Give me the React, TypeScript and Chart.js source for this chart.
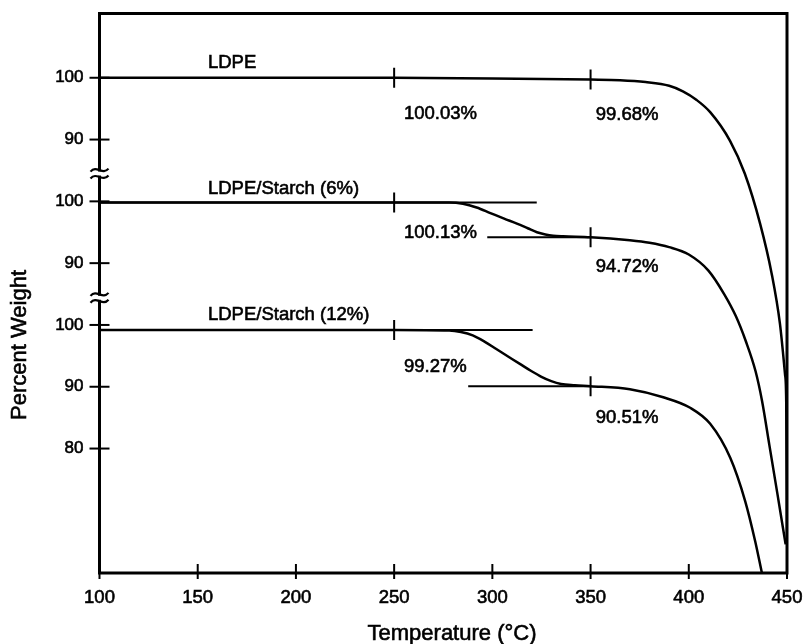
import React, { useEffect, useRef } from 'react';
import { Chart, registerables } from 'chart.js';

Chart.register(...registerables);

// ---------- data ----------
const tempMin = 100;
const tempMax = 450;
const tempStep = 50;

// LDPE thermogram (percent weight)
const ldpeTemp = [100, 200, 250, 300, 350, 365, 378, 390, 397, 404, 411, 421, 428.5, 436.3, 442.2, 446.4, 449.0, 449.6, 450];
const ldpeWeight = [100, 100, 100, 99.9, 99.7, 99.6, 99.3, 98.7, 97.8, 96.4, 94.4, 89.8, 84.5, 76.4, 68.3, 60.2, 52.0, 47.7, 24.5];

// LDPE/Starch (6%)
const starch6Temp = [100, 250, 278, 285, 292, 299, 306, 312.5, 318, 322.7, 327, 331, 336, 350, 370, 380, 390, 400, 410, 418, 424, 429, 434, 437.3, 441, 445, 449.3];
const starch6Weight = [99.8, 99.8, 99.8, 99.6, 99.0, 98.1, 97.2, 96.4, 95.65, 95.0, 94.65, 94.45, 94.35, 94.2, 93.7, 93.3, 92.6, 91.4, 88.8, 85.0, 81.4, 77.4, 72.5, 67.7, 60.6, 52.9, 44.5];

// LDPE/Starch (12%)
const starch12Temp = [100, 250, 278, 284, 290, 296, 302, 308, 314, 320, 325, 330, 335, 342, 350, 370, 387, 400.7, 410.9, 421.1, 428.7, 433.8, 437.2];
const starch12Weight = [99.2, 99.2, 99.1, 98.85, 98.3, 97.3, 96.1, 94.9, 93.7, 92.5, 91.6, 90.9, 90.45, 90.25, 90.1, 89.6, 88.3, 86.6, 84.0, 78.5, 71.5, 65.0, 59.9];

// tangent construction lines
const starch6UpperTemp = [100, 322.6];
const starch6UpperWeight = [99.8, 99.8];
const starch6LowerTemp = [297.4, 350];
const starch6LowerWeight = [94.2, 94.2];
const starch12UpperTemp = [100, 320.5];
const starch12UpperWeight = [99.2, 99.2];
const starch12LowerTemp = [287.7, 350];
const starch12LowerWeight = [90.1, 90.1];

// vertical marker ticks on the curves
const markerTemps = [250, 350];
const ldpeMarkers = [100, 99.7];
const starch6Markers = [99.8, 94.2];
const starch12Markers = [99.2, 90.1];

// vertical stacking offsets of the three thermograms
const ldpeOffset = 40;
const starch6Offset = 20;
const starch12Offset = 0;

// y axis (stacked scale)
const yMin = 59.86;
const yMax = 150.4;
const yTickValues = [80, 90, 100, 110, 120, 130, 140];
const yTickLabels = ['80', '90', '100', '90', '100', '90', '100'];
const axisBreaks = [124.5, 104.4];

// text annotations: temperature, percent weight, series offset
const annotations = [
  { text: 'LDPE', t: 155.2, pct: 102.6, offset: ldpeOffset },
  { text: '100.03%', t: 255.0, pct: 94.4, offset: ldpeOffset },
  { text: '99.68%', t: 352.6, pct: 94.3, offset: ldpeOffset },
  { text: 'LDPE/Starch (6%)', t: 155.2, pct: 102.2, offset: starch6Offset },
  { text: '100.13%', t: 255.0, pct: 95.15, offset: starch6Offset },
  { text: '94.72%', t: 352.6, pct: 89.6, offset: starch6Offset },
  { text: 'LDPE/Starch (12%)', t: 155.2, pct: 101.9, offset: starch12Offset },
  { text: '99.27%', t: 255.0, pct: 93.4, offset: starch12Offset },
  { text: '90.51%', t: 352.6, pct: 85.2, offset: starch12Offset },
];

const xTitle = 'Temperature (°C)';
const yTitle = 'Percent Weight';

// ---------- helpers ----------
const FONT = '"Liberation Sans", Arial, Helvetica, sans-serif';

const toPoints = (ts: number[], ws: number[], off: number) =>
  ts.map((t, i) => ({ x: t, y: ws[i] + off }));

const curve = (label: string, ts: number[], ws: number[], off: number) => ({
  label,
  data: toPoints(ts, ws, off),
  borderColor: '#000',
  borderWidth: 2.5,
  pointRadius: 0,
  fill: false,
  cubicInterpolationMode: 'monotone' as const,
});

const straight = (label: string, ts: number[], ws: number[], off: number) => ({
  label,
  data: toPoints(ts, ws, off),
  borderColor: '#000',
  borderWidth: 2,
  pointRadius: 0,
  fill: false,
  tension: 0,
});

const markers = (label: string, ws: number[], off: number) => ({
  label,
  data: toPoints(markerTemps, ws, off),
  showLine: false,
  borderColor: '#000',
  backgroundColor: '#000',
  borderWidth: 2,
  pointStyle: 'line' as const,
  rotation: 90,
  pointRadius: 10,
  pointHoverRadius: 10,
});

const drawText = (ctx: CanvasRenderingContext2D, text: string, x: number, y: number) => {
  ctx.fillText(text, x, y);
  ctx.strokeText(text, x, y);
};

const framePlugin = {
  id: 'tgaFrame',
  afterDatasetsDraw(chart: any) {
    const { ctx, chartArea: a, scales } = chart;
    const xs = scales.x;
    const ys = scales.y;
    ctx.save();
    ctx.strokeStyle = '#000';
    ctx.lineCap = 'butt';

    // frame
    ctx.lineWidth = 3;
    ctx.strokeRect(a.left, a.top, a.right - a.left, a.bottom - a.top);

    // crossing tick marks
    ctx.lineWidth = 2;
    ys.ticks.forEach((t: any) => {
      const y = ys.getPixelForValue(t.value);
      ctx.beginPath();
      ctx.moveTo(a.left - 10, y);
      ctx.lineTo(a.left + 10, y);
      ctx.stroke();
    });
    xs.ticks.forEach((t: any) => {
      const x = xs.getPixelForValue(t.value);
      ctx.beginPath();
      ctx.moveTo(x, a.bottom - 9);
      ctx.lineTo(x, a.bottom + 6);
      ctx.stroke();
    });

    // axis breaks
    axisBreaks.forEach((v) => {
      const y = ys.getPixelForValue(v);
      ctx.fillStyle = '#fff';
      ctx.fillRect(a.left - 3, y - 2, 6, 4);
      ctx.lineWidth = 2.2;
      [-3.4, 3.4].forEach((dy) => {
        const cy = y + dy;
        ctx.beginPath();
        ctx.moveTo(a.left - 9, cy + 1.5);
        ctx.bezierCurveTo(a.left - 3, cy - 5.5, a.left + 3, cy + 5.5, a.left + 9, cy - 1.5);
        ctx.stroke();
      });
    });

    // annotations
    ctx.fillStyle = '#000';
    ctx.lineWidth = 0.6;
    ctx.font = `18.5px ${FONT}`;
    ctx.textAlign = 'left';
    ctx.textBaseline = 'alphabetic';
    annotations.forEach((an) => {
      const x = xs.getPixelForValue(an.t);
      const y = ys.getPixelForValue(an.pct + an.offset);
      drawText(ctx, an.text, x, y + 0.36 * 18.5);
    });

    // axis titles
    ctx.font = `22px ${FONT}`;
    ctx.textAlign = 'center';
    drawText(ctx, xTitle, 452, 640);
    ctx.save();
    ctx.translate(26, 345);
    ctx.rotate(-Math.PI / 2);
    drawText(ctx, yTitle, 0, 0);
    ctx.restore();

    ctx.restore();
  },
};

export default function App() {
  const ref = useRef<HTMLCanvasElement>(null);

  useEffect(() => {
    document.body.style.margin = '0';
    const canvas = ref.current;
    if (!canvas) return;
    const chart = new Chart(canvas, {
      type: 'line',
      data: {
        datasets: [
          curve('LDPE', ldpeTemp, ldpeWeight, ldpeOffset),
          curve('LDPE/Starch (6%)', starch6Temp, starch6Weight, starch6Offset),
          curve('LDPE/Starch (12%)', starch12Temp, starch12Weight, starch12Offset),
          straight('6% upper tangent', starch6UpperTemp, starch6UpperWeight, starch6Offset),
          straight('6% lower tangent', starch6LowerTemp, starch6LowerWeight, starch6Offset),
          straight('12% upper tangent', starch12UpperTemp, starch12UpperWeight, starch12Offset),
          straight('12% lower tangent', starch12LowerTemp, starch12LowerWeight, starch12Offset),
          markers('LDPE marks', ldpeMarkers, ldpeOffset),
          markers('6% marks', starch6Markers, starch6Offset),
          markers('12% marks', starch12Markers, starch12Offset),
        ] as any,
      },
      options: {
        responsive: false,
        animation: false,
        devicePixelRatio: 1,
        events: [],
        layout: { padding: { top: 13.5, right: 20, left: 0, bottom: 0 } },
        plugins: {
          legend: { display: false },
          tooltip: { enabled: false },
        },
        scales: {
          x: {
            type: 'linear',
            min: tempMin,
            max: tempMax,
            grid: { display: false, drawTicks: false },
            border: { display: false },
            ticks: {
              stepSize: tempStep,
              autoSkip: false,
              maxRotation: 0,
              padding: 14,
              color: '#000',
              textStrokeColor: '#000',
              textStrokeWidth: 0.6,
              font: { family: FONT, size: 18.5 },
              callback: (v: any) => String(v),
            },
            afterFit: (s: any) => {
              s.height = 71;
              s.paddingLeft = 0;
              s.paddingRight = 0;
            },
          },
          y: {
            type: 'linear',
            min: yMin,
            max: yMax,
            grid: { display: false, drawTicks: false },
            border: { display: false },
            afterBuildTicks: (s: any) => {
              s.ticks = yTickValues.map((v) => ({ value: v }));
            },
            ticks: {
              padding: 16,
              color: '#000',
              textStrokeColor: '#000',
              textStrokeWidth: 0.6,
              font: { family: FONT, size: 17 },
              callback: (v: any) => {
                const i = yTickValues.indexOf(Number(v));
                return i >= 0 ? yTickLabels[i] : '';
              },
            },
            afterFit: (s: any) => {
              s.width = 99.5;
              s.paddingTop = 0;
              s.paddingBottom = 0;
            },
          },
        },
      },
      plugins: [framePlugin],
    });
    return () => chart.destroy();
  }, []);

  return (
    <div style={{ width: 807, height: 644, background: '#fff' }}>
      <canvas ref={ref} width={807} height={644} style={{ display: 'block' }} />
    </div>
  );
}
